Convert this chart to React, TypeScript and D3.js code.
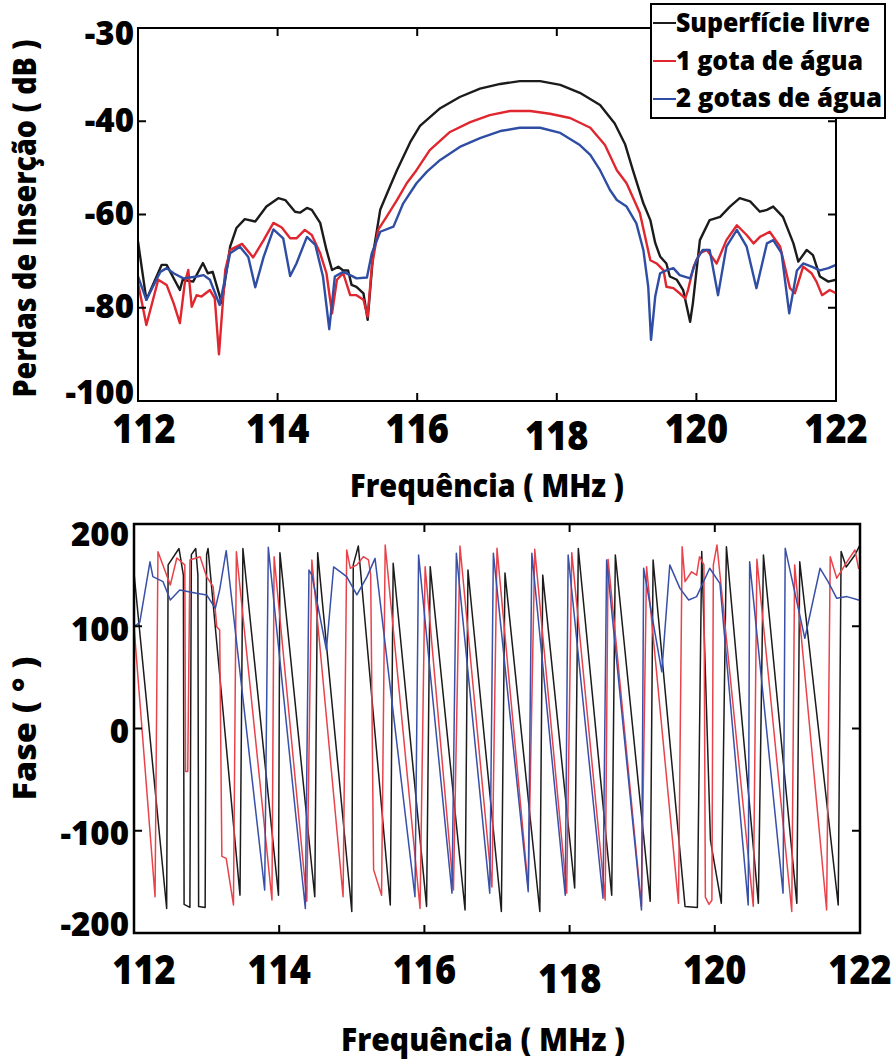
import React from "react";
import * as d3 from "d3";

// ---------- Top panel: insertion loss (dB) vs frequency (MHz) ----------
const ilBlack: [number, number][] = [
  [112.0, -65.8], [112.12, -78.3], [112.34, -70.8], [112.41, -70.8], [112.6, -76.2], [112.64, -74.0],
  [112.79, -74.4], [112.93, -70.4], [113.0, -72.6], [113.07, -72.3], [113.2, -79.0], [113.32, -66.9],
  [113.41, -62.9], [113.53, -61.0], [113.68, -61.5], [113.84, -58.3], [114.01, -56.5], [114.11, -56.9],
  [114.25, -59.4], [114.32, -59.6], [114.42, -58.6], [114.49, -59.0], [114.61, -61.8], [114.7, -67.6],
  [114.78, -71.9], [114.87, -71.2], [114.94, -72.0], [115.01, -72.0], [115.06, -75.1], [115.13, -75.5],
  [115.23, -76.9], [115.29, -82.6], [115.37, -68.3], [115.47, -59.0], [115.61, -54.0], [115.71, -50.5],
  [115.9, -44.5], [116.04, -41.0], [116.33, -37.2], [116.61, -34.8], [116.9, -33.0], [117.19, -32.0],
  [117.47, -31.4], [117.76, -31.4], [118.05, -32.2], [118.33, -33.9], [118.62, -36.5], [118.83, -40.5],
  [118.98, -45.0], [119.09, -50.5], [119.24, -57.6], [119.34, -61.2], [119.41, -66.1], [119.48, -69.0],
  [119.57, -70.5], [119.62, -73.3], [119.72, -74.0], [119.81, -76.2], [119.91, -83.0], [119.95, -79.0],
  [120.05, -65.5], [120.19, -61.2], [120.34, -60.5], [120.48, -58.3], [120.62, -56.5], [120.77, -57.2],
  [120.91, -59.4], [121.01, -59.0], [121.1, -58.3], [121.24, -60.5], [121.39, -66.2], [121.46, -70.1],
  [121.58, -67.6], [121.67, -68.7], [121.77, -73.3], [121.89, -74.4], [122.0, -74.0],
];

const ilRed: [number, number][] = [
  [112.0, -74.7], [112.12, -83.7], [112.29, -74.0], [112.41, -75.1], [112.51, -79.0], [112.6, -83.3],
  [112.67, -74.7], [112.72, -71.9], [112.77, -79.8], [112.84, -77.3], [112.91, -77.6], [113.03, -76.2],
  [113.1, -78.0], [113.16, -90.0], [113.25, -71.9], [113.32, -67.6], [113.49, -66.3], [113.65, -69.2],
  [113.8, -65.5], [113.94, -61.8], [114.06, -62.8], [114.18, -65.1], [114.27, -65.1], [114.39, -63.3],
  [114.49, -64.4], [114.61, -68.3], [114.7, -72.6], [114.78, -81.2], [114.85, -74.0], [114.94, -72.6],
  [115.04, -77.3], [115.13, -77.3], [115.23, -78.3], [115.29, -81.9], [115.35, -71.2], [115.44, -63.3],
  [115.56, -60.5], [115.71, -56.9], [115.85, -53.3], [115.99, -50.5], [116.18, -46.2], [116.47, -42.3],
  [116.76, -40.2], [117.04, -38.7], [117.33, -37.8], [117.62, -37.8], [117.9, -38.4], [118.19, -39.3],
  [118.48, -41.4], [118.69, -45.1], [118.86, -50.5], [119.0, -53.3], [119.19, -59.7], [119.34, -69.8],
  [119.43, -70.5], [119.53, -72.0], [119.57, -75.5], [119.67, -75.8], [119.76, -76.9], [119.84, -78.0],
  [119.88, -76.2], [119.96, -71.2], [120.05, -68.3], [120.15, -67.6], [120.29, -70.5], [120.43, -65.5],
  [120.58, -62.3], [120.72, -64.4], [120.82, -66.2], [120.91, -64.8], [121.05, -63.7], [121.2, -66.9],
  [121.34, -75.8], [121.41, -76.9], [121.53, -71.2], [121.65, -72.6], [121.72, -74.4], [121.8, -77.3],
  [121.91, -76.2], [122.0, -76.9],
];

const ilBlue: [number, number][] = [
  [112.0, -73.3], [112.12, -78.3], [112.32, -72.3], [112.41, -71.5], [112.51, -72.6], [112.65, -73.7],
  [112.84, -73.3], [112.94, -73.0], [113.03, -74.0], [113.17, -79.4], [113.32, -68.3], [113.46, -66.9],
  [113.58, -69.1], [113.68, -75.6], [113.8, -69.1], [113.94, -63.2], [114.08, -65.1], [114.18, -73.2],
  [114.27, -70.5], [114.42, -64.8], [114.54, -66.5], [114.65, -73.3], [114.74, -84.6], [114.82, -73.3],
  [114.94, -72.3], [115.04, -73.0], [115.13, -73.7], [115.28, -73.5], [115.35, -68.3], [115.47, -63.7],
  [115.66, -62.6], [115.8, -57.6], [115.99, -53.3], [116.14, -50.8], [116.33, -48.3], [116.61, -45.5],
  [116.9, -43.6], [117.19, -42.1], [117.47, -41.4], [117.76, -41.4], [118.05, -42.5], [118.33, -45.1],
  [118.48, -47.2], [118.62, -50.5], [118.76, -54.7], [118.86, -56.9], [119.0, -58.3], [119.14, -61.9],
  [119.24, -67.6], [119.31, -75.5], [119.35, -86.9], [119.41, -77.6], [119.48, -72.6], [119.57, -72.0],
  [119.67, -71.5], [119.76, -73.0], [119.91, -73.7], [120.0, -69.8], [120.09, -67.6], [120.19, -67.6],
  [120.31, -77.3], [120.43, -66.9], [120.58, -63.3], [120.72, -66.9], [120.86, -75.8], [121.01, -66.2],
  [121.1, -65.5], [121.22, -68.3], [121.33, -81.2], [121.44, -72.0], [121.53, -70.5], [121.65, -71.2],
  [121.77, -72.0], [121.89, -71.5], [122.0, -70.8],
];

// ---------- Bottom panel: phase (deg) vs frequency (MHz) ----------
const phBlack: [number, number][] = [
  [112.0, 152], [112.45, -176], [112.47, 160], [112.62, 176], [112.68, 150], [112.69, -172],
  [112.77, -175], [112.79, 170], [112.85, 176], [112.88, 150], [112.89, -174], [112.98, -175],
  [113.0, 170], [113.02, 176], [113.46, -163], [113.5, 176], [113.99, -163], [114.01, 172],
  [114.49, -164.5], [114.53, 172], [115.0, -179], [115.02, 160], [115.09, 178.5], [115.53, -172.6],
  [115.57, 161.6], [116.03, -174], [116.08, 158.3], [116.56, -177.5], [116.6, 155], [117.06, -179],
  [117.11, 152], [117.59, -179], [117.63, 150], [118.07, -156], [118.12, 176], [118.58, -163],
  [118.63, 169.7], [119.11, -169], [119.15, 164.8], [119.59, -174], [119.76, -175], [119.82, 173],
  [119.94, -109], [119.97, -122], [120.09, -171], [120.16, 177.8], [120.6, -171], [120.67, 169.7],
  [121.13, -171], [121.17, 163], [121.7, -172.6], [121.74, 173], [121.81, 158], [121.93, 169.7],
  [122.0, 179.5],
];

const phRed: [number, number][] = [
  [112.0, 100], [112.29, -164.5], [112.33, 172.9], [112.5, 140.3], [112.59, 166.7], [112.7, 160],
  [112.71, -42], [112.74, -42], [112.77, 164.8], [112.91, 168], [113.0, 148.5], [113.09, 138.7],
  [113.14, 99.6], [113.18, 96.3], [113.21, -125], [113.27, -127], [113.37, -172.6], [113.41, 172.9],
  [113.9, -167.7], [113.93, 168], [114.38, -169], [114.45, 164.8], [114.88, -164.5], [114.93, 174.6],
  [114.98, 156.7], [115.07, 160], [115.16, 168], [115.23, 164.8], [115.26, 150], [115.3, -138],
  [115.41, -163], [115.46, 179.5], [115.94, -176], [116.01, 158.3], [116.4, -158], [116.49, 178.5],
  [116.93, -155], [117.0, 176.2], [117.43, -156], [117.52, 175.2], [117.96, -161], [118.03, 172],
  [118.49, -167.7], [118.53, 165.5], [118.99, -174], [119.06, 158.3], [119.5, -171], [119.55, 177.8],
  [119.59, 143.6], [119.68, 153.3], [119.75, 150], [119.79, 168], [119.85, 160], [119.87, -165],
  [119.92, -172], [119.96, -168], [119.98, 160], [120.03, 179.5], [120.53, -174], [120.58, 165.5],
  [121.06, -179], [121.1, 160], [121.54, -177.5], [121.59, 168], [121.68, 147], [121.82, 163],
  [121.93, 174.6], [121.98, 156.7], [122.0, 158],
];

const phBlue: [number, number][] = [
  [112.0, 101], [112.03, 101], [112.08, 104], [112.22, 163], [112.26, 148.5], [112.4, 143.6],
  [112.5, 125.7], [112.63, 135.5], [112.86, 132.2], [113.0, 130.6], [113.12, 117.6], [113.18, 135.5],
  [113.27, 173.9], [113.8, -158], [113.85, 177.2], [114.36, -176], [114.41, 155], [114.45, 150],
  [114.65, 77], [114.75, 158], [114.93, 148.5], [115.07, 130.6], [115.21, 148.5], [115.32, 166.4],
  [115.87, -164.5], [115.92, 169.7], [116.38, -161], [116.44, 171.3], [116.9, -161], [116.95, 171.3],
  [117.43, -159.6], [117.48, 171.3], [117.94, -163], [117.98, 169.7], [118.46, -166], [118.51, 164.8],
  [118.99, -177.5], [119.02, 156.7], [119.27, 55.5], [119.38, 160], [119.52, 137], [119.64, 125.7],
  [119.75, 129], [119.93, 156.7], [120.07, 142], [120.46, -172.6], [120.48, 163.1], [120.94, -161],
  [120.97, 176.2], [121.24, 88.2], [121.45, 156.7], [121.56, 143.6], [121.68, 127.3], [121.82, 129],
  [121.98, 125.7], [122.0, 126],
];

// ---------- Ticks and labels ----------
const freqTicks = [112, 114, 116, 118, 120, 122];
const ilTicks = [-100, -80, -60, -40, -20];
const ilTickLabels = ["-100", "-80", "-60", "-40", "-30"];
const phTicks = [-200, -100, 0, 100, 200];
const phTickLabels = ["-200", "-100", "0", "100", "200"];
const legendLabels = ["Superfície livre", "1 gota de água", "2 gotas de água"];
const seriesColors = ["#1b1b1b", "#e0262f", "#2f4ea3"];
const phaseColors = ["#1b1b1b", "#e8434b", "#3850a8"];
const xTitle = "Frequência ( MHz )";
const yTitleTop = "Perdas de Inserção ( dB )";
const yTitleBottom = "Fase ( ° )";

const FONT = "'Open Sans', 'DejaVu Sans', sans-serif";

export default function App() {
  // top panel geometry
  const tL = 138, tR = 836, tT = 28, tB = 401;
  const xTop = d3.scaleLinear().domain([112, 122]).range([tL, tR]);
  const yTop = d3.scaleLinear().domain([-100, -20]).range([tB, tT]);
  // bottom panel geometry
  const bL = 134, bR = 860, bT = 524, bB = 933;
  const xBot = d3.scaleLinear().domain([112, 122]).range([bL, bR]);
  const yBot = d3.scaleLinear().domain([-200, 200]).range([bB, bT]);

  const lineTop = d3.line<[number, number]>().x((d) => xTop(d[0])).y((d) => yTop(d[1])).curve(d3.curveLinear);
  const lineBot = d3.line<[number, number]>().x((d) => xBot(d[0])).y((d) => yBot(d[1])).curve(d3.curveLinear);

  const ilSeries = [ilBlack, ilRed, ilBlue];
  const phSeries = [phBlack, phRed, phBlue];
  const tick = 8;
  const xLabelSize = 41;
  const xLabelScale = 0.88;

  return (
    <svg width={893} height={1060} style={{ position: "absolute", left: 0, top: 0, background: "#fff" }}
      fontFamily={FONT} fontWeight={800}>
      <defs>
        <clipPath id="clipTop"><rect x={tL} y={tT} width={tR - tL} height={tB - tT} /></clipPath>
        <clipPath id="clipBot"><rect x={bL} y={bT} width={bR - bL} height={bB - bT} /></clipPath>
      </defs>
      <rect x={0} y={0} width={893} height={1060} fill="#fff" />

      {/* ===== Top panel ===== */}
      <g clipPath="url(#clipTop)">
        {ilSeries.map((s, i) => (
          <path key={i} d={lineTop(s) || ""} fill="none" stroke={seriesColors[i]} strokeWidth={2.4} strokeLinejoin="round" />
        ))}
      </g>
      <rect x={tL} y={tT} width={tR - tL} height={tB - tT} fill="none" stroke="#000" strokeWidth={2} />
      {freqTicks.slice(1, -1).map((f) => (
        <g key={f}>
          <line x1={xTop(f)} x2={xTop(f)} y1={tB} y2={tB - tick} stroke="#000" strokeWidth={2} />
          <line x1={xTop(f)} x2={xTop(f)} y1={tT} y2={tT + tick} stroke="#000" strokeWidth={2} />
        </g>
      ))}
      {ilTicks.slice(1, -1).map((v) => (
        <g key={v}>
          <line x1={tL} x2={tL + tick} y1={yTop(v)} y2={yTop(v)} stroke="#000" strokeWidth={2} />
          <line x1={tR} x2={tR - tick} y1={yTop(v)} y2={yTop(v)} stroke="#000" strokeWidth={2} />
        </g>
      ))}
      {freqTicks.map((f) => (
        <text key={f} transform={`translate(${xTop(f) + (f === 112 ? 6 : 0)},${443 + (f === 118 ? 7 : 0)}) scale(${xLabelScale},1)`}
          textAnchor="middle" fontSize={xLabelSize}>{f}</text>
      ))}
      {ilTicks.map((v, i) => (
        <text key={v} x={134} y={yTop(v) + (i === 0 ? -10 : i === ilTicks.length - 1 ? 4 : -2)}
          textAnchor="end" dominantBaseline="central" fontSize={33}>{ilTickLabels[i]}</text>
      ))}
      <text x={487} y={497} textAnchor="middle" fontSize={31} textLength={274} lengthAdjust="spacingAndGlyphs">{xTitle}</text>
      <text transform={`translate(36,${(tT + tB) / 2 + 4}) rotate(-90)`} textAnchor="middle" fontSize={31}
        textLength={358} lengthAdjust="spacingAndGlyphs">{yTitleTop}</text>

      {/* legend */}
      <rect x={651} y={4} width={234} height={114} fill="#fff" stroke="#000" strokeWidth={2} />
      {legendLabels.map((lab, i) => (
        <g key={lab}>
          <line x1={653} x2={676} y1={23 + i * 38} y2={23 + i * 38} stroke={seriesColors[i]} strokeWidth={2} />
          <text x={676} y={32 + i * 37.5} fontSize={26}
            textLength={[194, 187, 206][i]} lengthAdjust="spacingAndGlyphs">{lab}</text>
        </g>
      ))}

      {/* ===== Bottom panel ===== */}
      <g clipPath="url(#clipBot)">
        {phSeries.map((s, i) => (
          <path key={i} d={lineBot(s) || ""} fill="none" stroke={phaseColors[i]} strokeWidth={1.5} strokeLinejoin="round" />
        ))}
      </g>
      <rect x={bL} y={bT} width={bR - bL} height={bB - bT} fill="none" stroke="#000" strokeWidth={2.5} />
      {freqTicks.slice(1, -1).map((f) => (
        <g key={f}>
          <line x1={xBot(f)} x2={xBot(f)} y1={bB} y2={bB - tick} stroke="#000" strokeWidth={2} />
          <line x1={xBot(f)} x2={xBot(f)} y1={bT} y2={bT + tick} stroke="#000" strokeWidth={2} />
        </g>
      ))}
      {phTicks.slice(1, -1).map((v) => (
        <g key={v}>
          <line x1={bL} x2={bL + tick} y1={yBot(v)} y2={yBot(v)} stroke="#000" strokeWidth={2} />
          <line x1={bR} x2={bR - tick} y1={yBot(v)} y2={yBot(v)} stroke="#000" strokeWidth={2} />
        </g>
      ))}
      {freqTicks.map((f) => (
        <text key={f} transform={`translate(${xBot(f) + (f === 112 ? 10 : 0)},${984 + (f === 118 ? 9 : 0)}) scale(${xLabelScale},1)`}
          textAnchor="middle" fontSize={xLabelSize}>{f}</text>
      ))}
      {phTicks.map((v, i) => (
        <text key={v} x={129} y={yBot(v) + (i === 0 ? -10 : i === phTicks.length - 1 ? 9 : 2)}
          textAnchor="end" dominantBaseline="central" fontSize={33}>{phTickLabels[i]}</text>
      ))}
      <text x={483} y={1051} textAnchor="middle" fontSize={31} textLength={284} lengthAdjust="spacingAndGlyphs">{xTitle}</text>
      <text transform={`translate(36,${(bT + bB) / 2}) rotate(-90)`} textAnchor="middle" fontSize={31}
        textLength={144} lengthAdjust="spacingAndGlyphs">{yTitleBottom}</text>
    </svg>
  );
}
